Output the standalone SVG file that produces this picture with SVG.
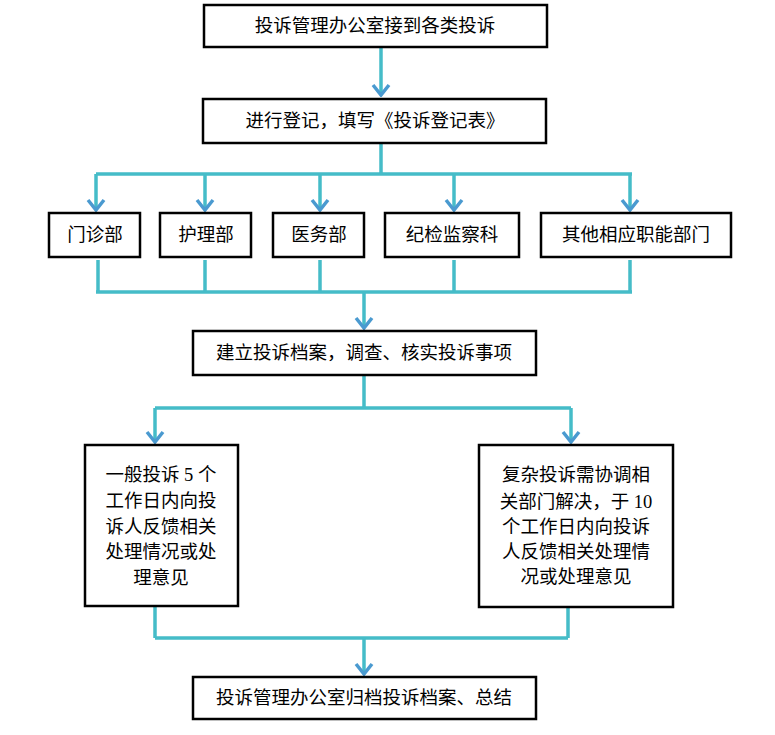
<svg xmlns="http://www.w3.org/2000/svg" width="775" height="735" viewBox="0 0 775 735">
<style>
.b{fill:#fff;stroke:#000;stroke-width:2.5}
.t{font-family:"Liberation Serif","Noto Sans CJK SC",serif;font-size:18.5px;fill:#000;text-anchor:middle}
.c{fill:none;stroke:#45BCC8;stroke-width:3.5}
</style>
<defs>
<marker id="a" viewBox="0 0 16 20" refX="14" refY="10" markerWidth="16" markerHeight="20" markerUnits="userSpaceOnUse" orient="auto">
<path d="M4,2 L14,10 L4,18" fill="none" stroke="#4A9AD0" stroke-width="3.5"/>
</marker>
</defs>
<g id="connectors">
<path class="c" d="M381,47 V95" marker-end="url(#a)"/>
<path class="c" d="M381,143 V174 M96,174 H632"/>
<path class="c" d="M96,174 V210" marker-end="url(#a)"/>
<path class="c" d="M205,174 V210" marker-end="url(#a)"/>
<path class="c" d="M320,174 V210" marker-end="url(#a)"/>
<path class="c" d="M454,174 V210" marker-end="url(#a)"/>
<path class="c" d="M630,174 V210" marker-end="url(#a)"/>
<path class="c" d="M98,260 V292 M205,260 V292 M320,260 V292 M454,260 V292 M630,260 V292 M96,292 H632"/>
<path class="c" d="M364,292 V328" marker-end="url(#a)"/>
<path class="c" d="M364,375 V408 M155,408 H571"/>
<path class="c" d="M155,408 V442" marker-end="url(#a)"/>
<path class="c" d="M571,408 V442" marker-end="url(#a)"/>
<path class="c" d="M155,607 V638 M568,607 V638 M155,638 H568"/>
<path class="c" d="M364,638 V674" marker-end="url(#a)"/>
</g>
<g id="n1"><rect class="b" x="204" y="5" width="343" height="42"/><text class="t" x="375" y="32">投诉管理办公室接到各类投诉</text></g>
<g id="n2"><rect class="b" x="203" y="99" width="343" height="44"/><text class="t" x="375" y="127">进行登记，填写《投诉登记表》</text></g>
<g id="n3"><rect class="b" x="49" y="213" width="91" height="44"/><text class="t" x="95" y="241">门诊部</text></g>
<g id="n4"><rect class="b" x="160" y="213" width="91" height="44"/><text class="t" x="206" y="241">护理部</text></g>
<g id="n5"><rect class="b" x="273" y="213" width="91" height="44"/><text class="t" x="319" y="241">医务部</text></g>
<g id="n6"><rect class="b" x="385" y="213" width="134" height="44"/><text class="t" x="452" y="241">纪检监察科</text></g>
<g id="n7"><rect class="b" x="541" y="213" width="190" height="44"/><text class="t" x="636" y="241">其他相应职能部门</text></g>
<g id="n8"><rect class="b" x="193" y="331" width="343" height="44"/><text class="t" x="364" y="359">建立投诉档案，调查、核实投诉事项</text></g>
<g id="n9"><rect class="b" x="85" y="445" width="153" height="161"/>
<text class="t" x="161" y="481">一般投诉 5 个</text>
<text class="t" x="161" y="507">工作日内向投</text>
<text class="t" x="161" y="533">诉人反馈相关</text>
<text class="t" x="161" y="558">处理情况或处</text>
<text class="t" x="161" y="584">理意见</text></g>
<g id="n10"><rect class="b" x="479" y="445" width="194" height="162"/>
<text class="t" x="576" y="481">复杂投诉需协调相</text>
<text class="t" x="576" y="508">关部门解决，于 10</text>
<text class="t" x="576" y="533">个工作日内向投诉</text>
<text class="t" x="576" y="558">人反馈相关处理情</text>
<text class="t" x="576" y="583">况或处理意见</text></g>
<g id="n11"><rect class="b" x="193" y="677" width="343" height="42"/><text class="t" x="364" y="704">投诉管理办公室归档投诉档案、总结</text></g>
</svg>
